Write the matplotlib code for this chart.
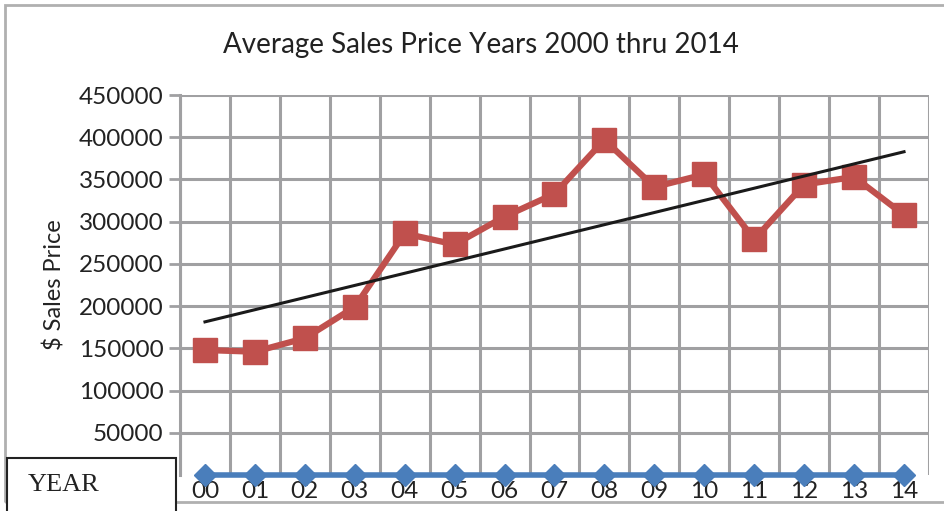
import matplotlib.pyplot as plt
import numpy as np
from matplotlib.patches import Rectangle

years = ["00", "01", "02", "03", "04", "05", "06", "07",
         "08", "09", "10", "11", "12", "13", "14"]
avg_price = [148000, 146000, 162000, 199000, 286000, 273000, 306000, 333000,
             397000, 341000, 356000, 279000, 344000, 353000, 308000]
year_series = [0] * len(years)
y_ticks = [50000, 100000, 150000, 200000, 250000, 300000, 350000, 400000, 450000]

plt.rcParams['font.family'] = ['Lato', 'DejaVu Sans']

W, H = 945, 511
fig = plt.figure(figsize=(W / 100, H / 100), dpi=100)
ax = fig.add_axes([180 / W, 1 - 475 / H, 749 / W, 380 / H])

x = np.arange(len(years))

# grid on category boundaries
for b in np.arange(-0.5, len(years) + 0.5, 1):
    ax.axvline(b, color='#a0a0a2', lw=2.2, zorder=1)
for t in y_ticks:
    ax.axhline(t, color='#a0a0a2', lw=2.2, zorder=1)

ax.plot(x, year_series, color='#4a7ebb', lw=4, marker='D', ms=11.5,
        clip_on=False, zorder=3)
ax.plot(x, avg_price, color='#c0504d', lw=4.5, marker='s', ms=17,
        clip_on=False, zorder=4)

# linear trendline
k, b0 = np.polyfit(x, avg_price, 1)
ax.plot(x, k * x + b0, color='#1a1a1a', lw=2.2, zorder=5)

ax.set_xlim(-0.5, len(years) - 0.5)
ax.set_ylim(0, 450000)
ax.set_yticks(y_ticks)
ax.set_yticklabels([str(v) for v in y_ticks], fontsize=17.5, color='#222222')
ax.tick_params(axis='y', length=8, width=2, color='#a0a0a2', pad=4)
ax.set_xticks(x)
ax.set_xticklabels(years, fontsize=17.5, color='#222222')
ax.tick_params(axis='x', length=0, pad=4)
for s in ax.spines.values():
    s.set_visible(False)
ax.spines['left'].set_visible(True)
ax.spines['left'].set_color('#a0a0a2')
ax.spines['left'].set_linewidth(2.2)

fig.text(481 / W, 1 - 45 / H, "Average Sales Price Years 2000 thru 2014",
         fontsize=20, ha='center', va='center', color='#222222')
fig.text(55 / W, 1 - 285 / H, "$ Sales Price", fontsize=17, rotation=90,
         ha='center', va='center', color='#222222')

# outer chart border
fig.patches.append(Rectangle((5 / W, 1 - 502 / H), 1.1, 497 / H,
                             transform=fig.transFigure, fill=False,
                             ec='#b0b0b0', lw=2, zorder=0))
# YEAR box
fig.patches.append(Rectangle((7 / W, -0.05), 169 / W, 0.05 + 1 - 458 / H,
                             transform=fig.transFigure, fc='white',
                             ec='#222222', lw=1.5, zorder=10))
fig.text(28 / W, 1 - 485 / H, "YEAR", family='Liberation Serif', fontsize=19,
         ha='left', va='center', color='#222222', zorder=11)

fig.savefig("out.png", dpi=100)
